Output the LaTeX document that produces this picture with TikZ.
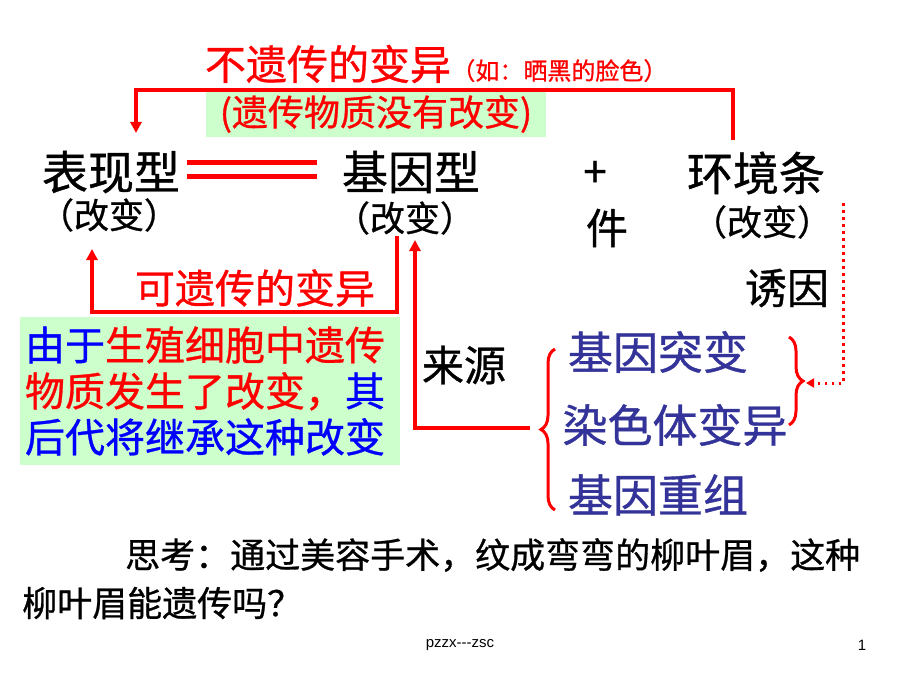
\documentclass[tikz,border=0pt]{standalone}
\usepackage{fontspec}
\setmainfont{Noto Sans CJK SC}[FakeBold=0.8]
\newfontfamily\footfont{Liberation Sans}
\usetikzlibrary{arrows.meta,decorations.pathreplacing}

\definecolor{brightred}{RGB}{255,0,0}
\definecolor{paleground}{RGB}{204,255,204}
\definecolor{navyblue}{RGB}{51,51,153}
\newcommand{\sizept}[1]{\fontsize{#1}{#1}\selectfont}

\tikzset{
  redline/.style={draw=brightred,line width=3.5pt},
  dotline/.style={draw=brightred,line width=3pt,dash pattern=on 2.5pt off 4.5pt},
  redbrace/.style={draw=brightred,line width=3pt,decorate,decoration={brace,amplitude=14pt}}
}

\begin{document}
\begin{tikzpicture}[x=1pt,y=-1pt]
\useasboundingbox (0,0) rectangle (920,690);

\begin{scope}[every node/.style={inner sep=0pt}]
    \node[text=brightred,font=\sizept{41}] (nonheritable) at (328,64) {不遗传的变异};
    \node[anchor=base west,text=brightred,font=\sizept{24}] (example) at (nonheritable.base east) {（如：晒黑的脸色）};
    \node[fill=paleground,text=brightred,font=\sizept{36},minimum width=340pt,minimum height=45pt] (nochange) at (376,114) {(遗传物质没有改变)};

    \node[font=\sizept{46}] (phenotype) at (111,172) {表现型};
    \node[font=\sizept{35}] (phenochange) at (109,215) {（改变）};
    \node[font=\sizept{46}] (genotype) at (411,172) {基因型};
    \node[font=\sizept{35}] (genochange) at (405,218) {（改变）};
    \node[font=\sizept{42}] (plus) at (595,174) {+};
    \node[font=\sizept{42}] (jian) at (607,228) {件};
    \node[font=\sizept{46}] (environment) at (756,173) {环境条};
    \node[font=\sizept{35}] (envchange) at (762,222) {（改变）};
    \node[font=\sizept{42}] (inducer) at (787,288) {诱因};

    \node[text=brightred,font=\sizept{40}] (heritable) at (255,288) {可遗传的变异};
    \node[fill=paleground,font=\fontsize{40}{46}\selectfont,text width=370pt,align=left,inner sep=5pt,minimum height=148pt] (cause) at (210,391)
        {{\color{blue}由于}{\color{brightred}生殖细胞中遗传}\\{\color{brightred}物质发生了改变，}{\color{blue}其}\\{\color{blue}后代将继承这种改变}};

    \node[font=\sizept{42}] (source) at (464,365) {来源};
    \node[text=navyblue,font=\sizept{45}] (mutation) at (658,352) {基因突变};
    \node[text=navyblue,font=\sizept{45}] (chromosome) at (675,425) {染色体变异};
    \node[text=navyblue,font=\sizept{45}] (recombination) at (658,495) {基因重组};

    \node[anchor=west,font=\sizept{35}] (think) at (125,555) {思考：通过美容手术，纹成弯弯的柳叶眉，这种};
    \node[anchor=west,font=\sizept{35}] (thinkmore) at (22,603) {柳叶眉能遗传吗？};

    \node[font=\footfont\sizept{15}] (footer) at (460,645) {pzzx-{}-{}-zsc};
    \node[font=\footfont\sizept{15}] (pagenum) at (862,645) {1};
\end{scope}

% connectors
\coordinate (envtop) at (733,140);
\coordinate (phenotop) at (136,133);
\coordinate (genoleft) at (397,236);
\coordinate (phenobottom) at (92,249);
\coordinate (genoright) at (415,240);
\coordinate (sourcetip) at (530,428);
\coordinate (envright) at (843,203);
\coordinate (causetip) at (806,383);

\begin{scope}[>={Triangle[length=11pt,width=11pt]}]
    \draw[redline,->] (envtop) -- ++(0,-50) -| (phenotop);
    \draw[redline,->] (genoleft) -- ++(0,76) -| (phenobottom);
    \draw[redline,->] (sourcetip) -| (genoright);
    \draw[dotline,-{Triangle[length=8pt,width=9pt]}] (envright) |- (causetip);

    \draw[draw=brightred,double=white,double distance=9pt,line width=5pt]
        ([xshift=7pt,yshift=3pt]phenotype.east) -- ([xshift=-25pt,yshift=3pt]genotype.west);

    \draw[redbrace] (555,510) -- (555,349);
    \draw[redbrace] (789,337) -- (789,425);
\end{scope}
\end{tikzpicture}
\end{document}
